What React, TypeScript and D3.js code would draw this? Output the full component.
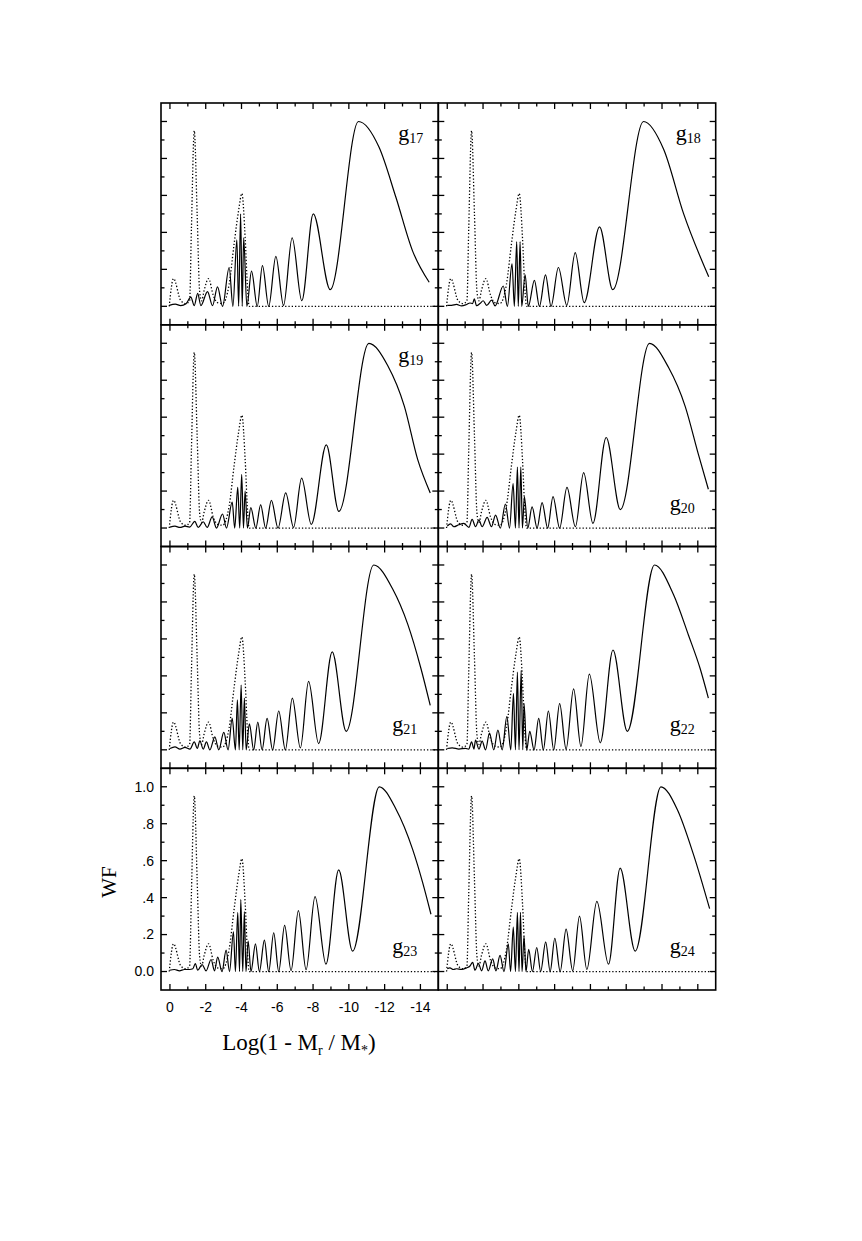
import React from 'react';
import * as d3 from 'd3';

type Pt = [number, number];

// mode labels (subscripts) and where the label sits in each panel
const modeNumbers = ['17', '18', '19', '20', '21', '22', '23', '24'];
const labelOnTop = [true, true, true, false, false, false, false, false];

const xTickValues = [0, -2, -4, -6, -8, -10, -12, -14];
const xTickLabels = ['0', '-2', '-4', '-6', '-8', '-10', '-12', '-14'];
const yTickValues = [0, 0.2, 0.4, 0.6, 0.8, 1.0];
const yTickLabels = ['0.0', '.2', '.4', '.6', '.8', '1.0'];

// dotted curve, same in every panel
const dottedWF: Pt[] = [
  [0.04, 0], [-0.2, 0.15], [-0.61, 0.03], [-0.89, 0.015], [-1.1, 0.03], [-1.2, 0.42],
  [-1.36, 0.95], [-1.52, 0.5], [-1.66, 0.08], [-1.77, 0.03], [-1.92, 0.09], [-2.16, 0.15],
  [-2.42, 0.06], [-2.66, 0.02], [-2.94, 0.015], [-3.31, 0.12], [-3.59, 0.34], [-3.84, 0.52],
  [-4.02, 0.61], [-4.21, 0.36], [-4.34, 0.09], [-4.43, 0], [-15, 0],
];

const wfG17: Pt[] = [
  [0.04, 0.005], [-0.3, 0.012], [-0.6, 0.004], [-0.9, 0.014], [-1.17, 0.05], [-1.36, 0.004],
  [-1.55, 0.07], [-1.73, 0.004], [-2.1, 0.08], [-2.38, 0.004], [-2.66, 0.105], [-2.94, 0],
  [-3.31, 0.21], [-3.52, 0], [-3.74, 0.36], [-3.84, 0], [-3.95, 0.5], [-4.04, 0], [-4.12, 0.37],
  [-4.3, 0], [-4.56, 0.19], [-4.88, 0], [-5.17, 0.22], [-5.52, 0], [-5.92, 0.27], [-6.35, 0.005],
  [-6.83, 0.37], [-7.37, 0.03], [-8.01, 0.5], [-8.96, 0.09], [-10.54, 1.0], [-11.69, 0.86],
  [-12.63, 0.59], [-13.56, 0.3], [-14.49, 0.13],
];

const wfG18: Pt[] = [
  [0.0, 0.005], [-0.24, 0.005], [-0.52, 0.01], [-0.8, 0.002], [-1.08, 0.01], [-1.27, 0.018],
  [-1.42, 0.015], [-1.51, 0.04], [-1.64, 0.003], [-1.83, 0.015], [-2.01, 0.03], [-2.2, 0.005],
  [-2.48, 0.033], [-2.67, 0.002], [-3.13, 0.11], [-3.36, 0], [-3.62, 0.23], [-3.75, 0],
  [-3.88, 0.35], [-3.97, 0], [-4.07, 0.35], [-4.16, 0], [-4.35, 0.17], [-4.53, 0], [-4.87, 0.14],
  [-5.15, 0], [-5.49, 0.17], [-5.8, 0], [-6.21, 0.21], [-6.68, 0.005], [-7.15, 0.29],
  [-7.65, 0.02], [-8.51, 0.43], [-9.25, 0.09], [-10.97, 1.0], [-12.09, 0.85], [-13.21, 0.5],
  [-14.61, 0.16],
];

const wfG19: Pt[] = [
  [0.0, 0.005], [-0.28, 0.01], [-0.56, 0.003], [-0.84, 0.01], [-1.1, 0.005], [-1.39, 0.036],
  [-1.58, 0.003], [-1.86, 0.034], [-2.08, 0.003], [-2.36, 0.06], [-2.6, 0], [-2.94, 0.076],
  [-3.16, 0], [-3.48, 0.14], [-3.62, 0], [-3.79, 0.22], [-3.9, 0], [-4.01, 0.29], [-4.11, 0],
  [-4.2, 0.2], [-4.33, 0], [-4.52, 0.11], [-4.8, 0], [-5.07, 0.125], [-5.35, 0], [-5.67, 0.15],
  [-6.04, 0], [-6.47, 0.19], [-6.91, 0.004], [-7.36, 0.27], [-7.9, 0.02], [-8.74, 0.45],
  [-9.44, 0.09], [-11.12, 1.0], [-12.17, 0.88], [-13.1, 0.66], [-13.85, 0.37], [-14.55, 0.19],
];

const wfG20: Pt[] = [
  [0.0, 0.01], [-0.19, 0.022], [-0.37, 0.007], [-0.65, 0.018], [-0.93, 0.025], [-1.21, 0.004],
  [-1.39, 0.047], [-1.58, 0.007], [-1.77, 0.043], [-1.95, 0.007], [-2.23, 0.058], [-2.47, 0.007],
  [-2.7, 0.07], [-2.97, 0], [-3.25, 0.13], [-3.48, 0], [-3.68, 0.24], [-3.81, 0], [-3.92, 0.33],
  [-4.01, 0], [-4.11, 0.33], [-4.2, 0], [-4.31, 0.17], [-4.5, 0], [-4.74, 0.115], [-5.02, 0],
  [-5.3, 0.137], [-5.61, 0], [-5.91, 0.17], [-6.28, 0], [-6.69, 0.22], [-7.16, 0.007],
  [-7.62, 0.3], [-8.14, 0.025], [-8.88, 0.49], [-9.67, 0.1], [-11.3, 1.0], [-12.36, 0.87],
  [-13.29, 0.66], [-14.03, 0.4], [-14.59, 0.21],
];

const wfG21: Pt[] = [
  [0.0, 0.007], [-0.28, 0.016], [-0.56, 0.004], [-0.84, 0.013], [-1.12, 0.004], [-1.36, 0.043],
  [-1.53, 0.007], [-1.67, 0.049], [-1.86, 0.004], [-2.04, 0.043], [-2.23, 0], [-2.51, 0.07],
  [-2.73, 0], [-3.01, 0.094], [-3.25, 0], [-3.48, 0.17], [-3.66, 0], [-3.77, 0.27], [-3.87, 0],
  [-3.98, 0.35], [-4.07, 0], [-4.16, 0.28], [-4.26, 0], [-4.44, 0.14], [-4.68, 0], [-4.91, 0.15],
  [-5.15, 0], [-5.43, 0.17], [-5.74, 0], [-6.08, 0.21], [-6.45, 0], [-6.84, 0.28], [-7.29, 0.01],
  [-7.75, 0.37], [-8.31, 0.034], [-9.07, 0.53], [-9.85, 0.1], [-11.39, 1.0], [-12.45, 0.87],
  [-13.29, 0.68], [-14.03, 0.44], [-14.55, 0.24],
];

const wfG22: Pt[] = [
  [0.0, 0.007], [-0.28, 0.011], [-0.65, 0.004], [-1.02, 0.008], [-1.2, 0.004], [-1.36, 0.043],
  [-1.49, 0.004], [-1.58, 0.052], [-1.77, 0.004], [-1.95, 0.047], [-2.14, 0], [-2.36, 0.09],
  [-2.6, 0], [-2.83, 0.106], [-3.07, 0], [-3.33, 0.18], [-3.55, 0], [-3.7, 0.305], [-3.81, 0],
  [-3.92, 0.42], [-4.01, 0], [-4.13, 0.43], [-4.22, 0], [-4.29, 0.25], [-4.44, 0], [-4.61, 0.1],
  [-4.85, 0], [-5.11, 0.17], [-5.37, 0], [-5.65, 0.21], [-5.95, 0], [-6.28, 0.25], [-6.64, 0.004],
  [-7.06, 0.33], [-7.47, 0.018], [-7.94, 0.41], [-8.55, 0.038], [-9.26, 0.54], [-10.06, 0.1],
  [-11.58, 1.0], [-12.64, 0.84], [-13.48, 0.62], [-14.13, 0.44], [-14.59, 0.28],
];

const wfG23: Pt[] = [
  [0.02, 0.007], [-0.25, 0.011], [-0.53, 0.004], [-0.81, 0.011], [-1.09, 0.011], [-1.28, 0.015],
  [-1.42, 0.043], [-1.55, 0.007], [-1.8, 0.038], [-2.02, 0.004], [-2.3, 0.065], [-2.49, 0.004],
  [-2.67, 0.078], [-2.91, 0], [-3.14, 0.116], [-3.33, 0], [-3.55, 0.215], [-3.66, 0],
  [-3.79, 0.32], [-3.89, 0], [-3.96, 0.39], [-4.07, 0], [-4.16, 0.325], [-4.25, 0],
  [-4.37, 0.165], [-4.53, 0], [-4.78, 0.15], [-5.0, 0], [-5.28, 0.17], [-5.52, 0], [-5.8, 0.21],
  [-6.08, 0], [-6.41, 0.25], [-6.77, 0.005], [-7.18, 0.33], [-7.61, 0.01], [-8.11, 0.405],
  [-8.72, 0.04], [-9.43, 0.55], [-10.21, 0.11], [-11.7, 1.0], [-12.63, 0.88], [-13.57, 0.66],
  [-14.13, 0.48], [-14.59, 0.31],
];

const wfG24: Pt[] = [
  [0.0, 0.015], [-0.15, 0.02], [-0.34, 0.011], [-0.52, 0.015], [-0.8, 0.011], [-1.08, 0.02],
  [-1.27, 0.03], [-1.42, 0.05], [-1.55, 0.007], [-1.74, 0.043], [-1.92, 0.004], [-2.11, 0.058],
  [-2.29, 0.004], [-2.54, 0.069], [-2.72, 0.004], [-2.95, 0.087], [-3.17, 0], [-3.41, 0.15],
  [-3.54, 0], [-3.69, 0.24], [-3.81, 0], [-3.92, 0.32], [-4.01, 0], [-4.09, 0.32], [-4.18, 0],
  [-4.29, 0.19], [-4.4, 0], [-4.55, 0.12], [-4.76, 0], [-5.0, 0.13], [-5.22, 0], [-5.5, 0.16],
  [-5.75, 0], [-6.01, 0.18], [-6.31, 0], [-6.64, 0.23], [-7.01, 0.004], [-7.39, 0.3],
  [-7.8, 0.011], [-8.36, 0.38], [-9.01, 0.04], [-9.66, 0.56], [-10.5, 0.11], [-11.94, 1.0],
  [-12.84, 0.88], [-13.77, 0.63], [-14.66, 0.34],
];

const solidSeries = [wfG17, wfG18, wfG19, wfG20, wfG21, wfG22, wfG23, wfG24];

// layout
const W = 862;
const H = 1241;
const colEdges = [161, 438.3, 715.7];
const rowEdges = [103, 324.8, 546.5, 768.3, 990];
const sans = '"Liberation Sans", Arial, Helvetica, sans-serif';
const serif = '"Liberation Serif", "Times New Roman", Times, serif';

function Panel({ idx }: { idx: number }) {
  const col = idx % 2;
  const row = Math.floor(idx / 2);
  const x0 = colEdges[col], x1 = colEdges[col + 1];
  const y0 = rowEdges[row], y1 = rowEdges[row + 1];
  const x = d3.scaleLinear().domain([0.5, -15]).range([x0, x1]);
  const y = d3.scaleLinear().domain([-0.1, 1.1]).range([y1, y0]);
  const line = d3.line<Pt>().x(d => x(d[0])).y(d => y(d[1])).curve(d3.curveMonotoneX);

  const xTicks = d3.range(0, -15, -1);
  const yTicks = d3.range(0, 11).map(i => i / 10);
  const majorLen = 6, minorLen = 3.5;
  const isBottomLeft = row === 3 && col === 0;

  const label = modeNumbers[idx];
  const lx = labelOnTop[idx] ? x1 - 40 : x1 - 46;
  const ly = labelOnTop[idx] ? y0 + 37 : y1 - 37;

  return (
    <g>
      <defs>
        <clipPath id={`clip${idx}`}>
          <rect x={x0} y={y0} width={x1 - x0} height={y1 - y0} />
        </clipPath>
      </defs>
      <g clipPath={`url(#clip${idx})`}>
        <path d={line(dottedWF) || ''} fill="none" stroke="#000" strokeWidth={1.3} strokeDasharray="1.3,2" />
        <path d={line(solidSeries[idx]) || ''} fill="none" stroke="#000" strokeWidth={1.2} />
      </g>
      {xTicks.map(t => {
        const len = t % 2 === 0 ? majorLen : minorLen;
        return (
          <g key={`x${t}`} stroke="#000" strokeWidth={1.3}>
            <line x1={x(t)} x2={x(t)} y1={y1} y2={y1 - len} />
            <line x1={x(t)} x2={x(t)} y1={y0} y2={y0 + len} />
          </g>
        );
      })}
      {yTicks.map((t, i) => {
        const len = i % 2 === 0 ? majorLen : minorLen;
        return (
          <g key={`y${i}`} stroke="#000" strokeWidth={1.3}>
            <line x1={x0} x2={x0 + len} y1={y(t)} y2={y(t)} />
            <line x1={x1} x2={x1 - len} y1={y(t)} y2={y(t)} />
          </g>
        );
      })}
      <rect x={x0} y={y0} width={x1 - x0} height={y1 - y0} fill="none" stroke="#000" strokeWidth={1.6} />
      <text x={lx} y={ly} fontFamily={serif} fontSize={22}>
        g<tspan fontSize={14} dy={3}>{label}</tspan>
      </text>
      {isBottomLeft && (
        <g fontFamily={sans} fontSize={14} fill="#000">
          {yTickValues.map((t, i) => (
            <text key={`yl${i}`} x={x0 - 7} y={y(t)} dy="0.35em" textAnchor="end">{yTickLabels[i]}</text>
          ))}
          {xTickValues.map((t, i) => (
            <text key={`xl${i}`} x={x(t)} y={y1 + 22} textAnchor="middle">{xTickLabels[i]}</text>
          ))}
        </g>
      )}
    </g>
  );
}

export default function App() {
  return (
    <svg width={W} height={H} style={{ position: 'absolute', left: 0, top: 0, display: 'block', background: '#fff' }}>
      <rect x={0} y={0} width={W} height={H} fill="#fff" />
      {modeNumbers.map((_, i) => <Panel key={i} idx={i} />)}
      <text transform="translate(116,882) rotate(-90)" textAnchor="middle" fontFamily={serif} fontSize={21}>WF</text>
      <text x={299} y={1050} textAnchor="middle" fontFamily={serif} fontSize={23}>
        Log(1 - M<tspan fontSize={14} dy={5}>r</tspan><tspan dy={-5}> / M</tspan>
        <tspan fontSize={14} dy={5}>*</tspan><tspan dy={-5}>)</tspan>
      </text>
    </svg>
  );
}
